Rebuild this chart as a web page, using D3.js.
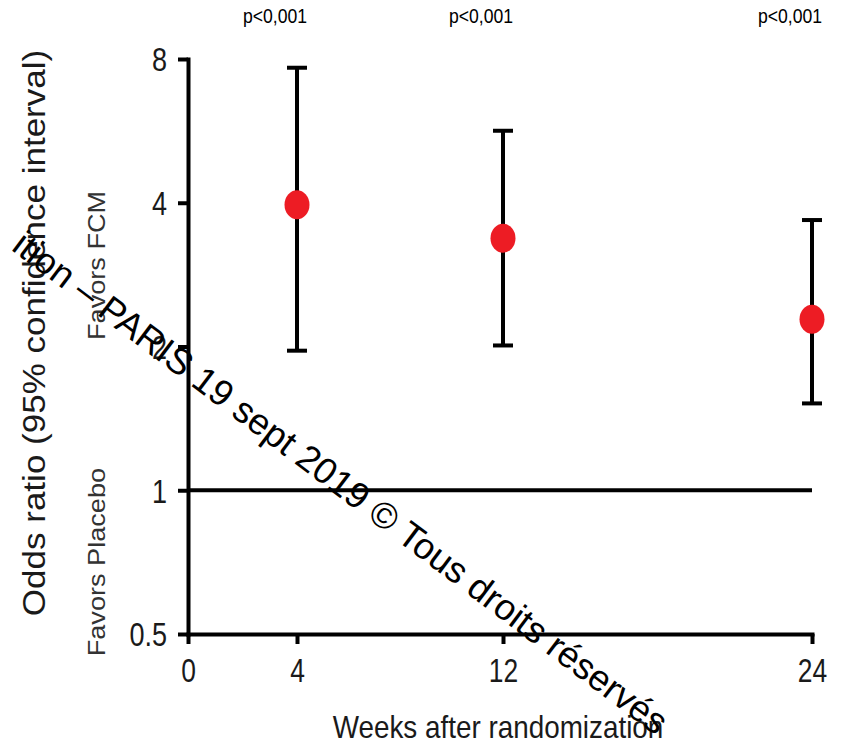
<!DOCTYPE html>
<html><head><meta charset="utf-8">
<script src="https://cdn.jsdelivr.net/npm/d3@7"></script>
<style>
body{margin:0;background:#fff}
svg{display:block}
text{font-family:"Liberation Sans",Arial,Helvetica,sans-serif}
</style>
</head><body>
<svg id="chart" width="846" height="745"></svg>
<script>
// ---- data ----
const weeks = [4, 12, 24];
const oddsRatio = [3.96, 3.37, 2.28];
const ciLower = [1.96, 2.01, 1.52];
const ciUpper = [7.67, 5.66, 3.68];
const pValues = ["p<0,001", "p<0,001", "p<0,001"];
const xTicks = [0, 4, 12, 24];
const xTickLabels = ["0", "4", "12", "24"];
const yTicks = [0.5, 1, 2, 4, 8];
const yTickLabels = ["0.5", "1", "2", "4", "8"];
const referenceOR = [1];
const xTitle = "Weeks after randomization";
const yTitle = "Odds ratio (95% confidence interval)";
const favorsTop = "Favors FCM";
const favorsBottom = "Favors Placebo";
const watermark = "ition – PARIS 19 sept 2019 © Tous droits réservés";

const rows = weeks.map((w, i) => ({w, or: oddsRatio[i], lo: ciLower[i], hi: ciUpper[i], p: pValues[i]}));

// ---- scales ----
const x = d3.scaleLinear().domain([0, 4, 24]).range([188, 297, 812]);
const y = d3.scaleLog().base(2).domain([0.5, 8]).range([634, 59]);

const svg = d3.select("#chart");
const ink = "#000";

// reference line at OR = 1
svg.selectAll("line.ref").data(referenceOR).join("line")
  .attr("class", "ref")
  .attr("x1", x(0)).attr("x2", x(24))
  .attr("y1", d => y(d)).attr("y2", d => y(d))
  .attr("stroke", ink).attr("stroke-width", 4);

// y axis
const yAxis = svg.append("g").attr("transform", `translate(${x(0)},0)`)
  .call(d3.axisLeft(y).tickValues(yTicks).tickFormat((d, i) => yTickLabels[i]).tickSize(10).tickSizeOuter(0));
yAxis.select(".domain").attr("stroke", ink).attr("stroke-width", 4).attr("stroke-linecap", "square");
yAxis.selectAll(".tick line").attr("stroke", ink).attr("stroke-width", 4);
yAxis.selectAll(".tick text")
  .attr("x", null).attr("dy", "0.36em")
  .attr("text-anchor", "end")
  .attr("transform", "translate(-21,0) scale(0.82,1)")
  .attr("font-size", 33).attr("fill", "#1a1a1a")
  .attr("font-family", "Liberation Sans, Arial, sans-serif");

// x axis
const xAxis = svg.append("g").attr("transform", `translate(0,${y(0.5)})`)
  .call(d3.axisBottom(x).tickValues(xTicks).tickFormat((d, i) => xTickLabels[i]).tickSize(10).tickSizeOuter(0));
xAxis.select(".domain").attr("stroke", ink).attr("stroke-width", 4).attr("stroke-linecap", "square");
xAxis.selectAll(".tick line").attr("stroke", ink).attr("stroke-width", 4);
xAxis.selectAll(".tick text")
  .attr("y", null).attr("dy", null)
  .attr("text-anchor", "middle")
  .attr("transform", "translate(0,48) scale(0.8,1)")
  .attr("font-size", 33).attr("fill", "#1a1a1a")
  .attr("font-family", "Liberation Sans, Arial, sans-serif");

// error bars
const capHalf = 10;
const bars = svg.append("g").selectAll("g").data(rows).join("g");
bars.append("line")
  .attr("x1", d => x(d.w)).attr("x2", d => x(d.w))
  .attr("y1", d => y(d.lo)).attr("y2", d => y(d.hi))
  .attr("stroke", ink).attr("stroke-width", 4);
bars.append("line")
  .attr("x1", d => x(d.w) - capHalf).attr("x2", d => x(d.w) + capHalf)
  .attr("y1", d => y(d.hi)).attr("y2", d => y(d.hi))
  .attr("stroke", ink).attr("stroke-width", 4);
bars.append("line")
  .attr("x1", d => x(d.w) - capHalf).attr("x2", d => x(d.w) + capHalf)
  .attr("y1", d => y(d.lo)).attr("y2", d => y(d.lo))
  .attr("stroke", ink).attr("stroke-width", 4);
bars.append("ellipse")
  .attr("cx", d => x(d.w)).attr("cy", d => y(d.or))
  .attr("rx", 12.5).attr("ry", 14.5)
  .attr("fill", "#ED1C24");

// p-values
svg.append("g").selectAll("text").data(rows).join("text")
  .attr("transform", d => `translate(${x(d.w) - 22},23) scale(0.88,1)`)
  .attr("text-anchor", "middle")
  .attr("font-size", 20).attr("fill", "#000")
  .text(d => d.p);

// axis titles
svg.append("text")
  .attr("transform", `translate(${(x(0) + x(24)) / 2 - 2},738) scale(0.87,1)`)
  .attr("text-anchor", "middle")
  .attr("font-size", 32).attr("fill", "#1a1a1a")
  .text(xTitle);

svg.append("text")
  .attr("transform", `translate(45,333) rotate(-90) scale(1.13,1)`)
  .attr("text-anchor", "middle")
  .attr("font-size", 31).attr("fill", "#1a1a1a")
  .text(yTitle);

svg.append("text")
  .attr("transform", `translate(105,${y(3) + 3}) rotate(-90) scale(1.13,1)`)
  .attr("text-anchor", "middle")
  .attr("font-size", 24).attr("fill", "#333")
  .text(favorsTop);

svg.append("text")
  .attr("transform", `translate(105,${(y(1) + y(0.5)) / 2}) rotate(-90) scale(1.13,1)`)
  .attr("text-anchor", "middle")
  .attr("font-size", 24).attr("fill", "#333")
  .text(favorsBottom);

// watermark
svg.append("text")
  .attr("transform", "translate(656,736) rotate(37)")
  .attr("text-anchor", "end")
  .attr("font-size", 36.5).attr("fill", "#000")
  .text(watermark);
</script>
</body></html>
